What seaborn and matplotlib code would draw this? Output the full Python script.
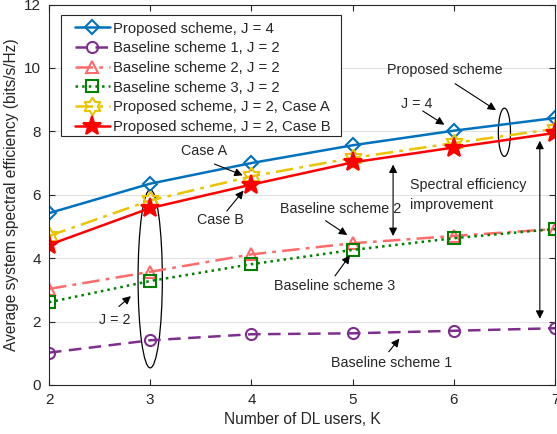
import matplotlib
matplotlib.use("Agg")
import matplotlib.pyplot as plt
from matplotlib.patches import Ellipse, Rectangle
import numpy as np
import seaborn as sns
import pandas as pd

K = [2, 3, 4, 5, 6, 7]
prop_j4 = [5.42, 6.35, 7.00, 7.56, 8.02, 8.42]
base1_j2 = [1.02, 1.41, 1.60, 1.63, 1.71, 1.79]
base2_j2 = [3.03, 3.57, 4.12, 4.47, 4.70, 4.92]
base3_j2 = [2.61, 3.28, 3.81, 4.26, 4.63, 4.92]
prop_j2_a = [4.70, 5.82, 6.58, 7.16, 7.63, 8.08]
prop_j2_b = [4.42, 5.58, 6.32, 7.02, 7.49, 7.95]

labels = ["Proposed scheme, J = 4", "Baseline scheme 1, J = 2",
          "Baseline scheme 2, J = 2", "Baseline scheme 3, J = 2",
          "Proposed scheme, J = 2, Case A", "Proposed scheme, J = 2, Case B"]
series = [prop_j4, base1_j2, base2_j2, base3_j2, prop_j2_a, prop_j2_b]

# six-pointed star marker (hexagram)
ang = np.pi / 2 + np.arange(12) * np.pi / 6
rad = np.where(np.arange(12) % 2 == 0, 1.0, 1 / np.sqrt(3))
hexagram = [(r * np.cos(a), r * np.sin(a)) for r, a in zip(rad, ang)]
hexagram.append(hexagram[0])

colors = ["#0072BD", "#7E2F8E", "#FF6B6B", "#008000", "#EBC400", "#FF0000"]
styles = ["-", (0, (5, 3)), (0, (7, 2.5, 1.5, 2.5)), ":", (0, (7, 2.5, 1.5, 2.5)), "-"]
markers = ["D", "o", "^", "s", hexagram, "*"]
msizes = [7, 8, 9, 8, 13, 14]
faces = ["none", "none", "none", "none", "none", "#FF0000"]

sns.set_style("ticks")
plt.rcParams['font.family'] = ['Liberation Sans', 'DejaVu Sans']

fig = plt.figure(figsize=(5.57, 4.34), dpi=100)
ax = fig.add_axes([49/557, 49/434, 506/557, 380.5/434])

for lab, vals, c, ls, m, ms, fc in zip(labels, series, colors, styles, markers, msizes, faces):
    df = pd.DataFrame({"K": K, "SE": vals})
    sns.lineplot(data=df, x="K", y="SE", ax=ax, color=c, linestyle=ls, marker=m,
                 markersize=ms, markerfacecolor=fc, markeredgecolor=c,
                 markeredgewidth=1.5, linewidth=1.8, label=lab)

ax.set_xlim(2, 7)
ax.set_ylim(0, 12)
ax.set_xticks(K)
ax.set_yticks([0, 2, 4, 6, 8, 10, 12])
ax.yaxis.grid(True, color="#e3e3e3", linewidth=0.8)
ax.set_axisbelow(True)
ax.tick_params(direction="in", top=True, right=True, labelsize=11, length=4,
               width=0.8, colors="#262626", pad=6)
for s in ax.spines.values():
    s.set_linewidth(0.8)
    s.set_color("#262626")
ax.set_xlabel("Number of DL users, K", fontsize=11.2, color="#262626", labelpad=3)
ax.set_ylabel("Average system spectral efficiency (bits/s/Hz)", fontsize=11.2,
              color="#262626", labelpad=3)

# legend frame (MATLAB-style padding)
ax.add_patch(Rectangle((61/557, (434-136)/434), 280/557, 121/434,
                       transform=fig.transFigure, facecolor="white",
                       edgecolor="#262626", lw=0.8, zorder=4, clip_on=False))
leg = ax.legend(loc="upper left", bbox_to_anchor=(75/557, (434-21.5)/434),
                bbox_transform=fig.transFigure, fontsize=10.7, frameon=False,
                handlelength=2.35, handletextpad=0.22, labelspacing=0.385,
                borderpad=0, borderaxespad=0)
leg.set_zorder(6)

fs = 10.3
arrow = dict(arrowstyle="-|>", color="black", lw=0.8, mutation_scale=12)
darrow = dict(arrowstyle="<|-|>", color="black", lw=0.8, mutation_scale=12)

ax.text(5.91, 9.95, "Proposed scheme", fontsize=fs, ha="center", va="center")
ax.annotate("", xy=(6.44, 8.62), xytext=(5.99, 9.55), arrowprops=arrow)
ax.add_patch(Ellipse((6.50, 7.97), 0.12, 1.52, fill=False, edgecolor="black", lw=0.9))

ax.text(5.63, 8.87, "J = 4", fontsize=fs, ha="center", va="center")
ax.annotate("", xy=(5.93, 8.16), xytext=(5.67, 8.69), arrowprops=arrow)

ax.text(3.53, 7.37, "Case A", fontsize=fs, ha="center", va="center")
ax.annotate("", xy=(3.94, 6.58), xytext=(3.61, 7.0), arrowprops=arrow)

ax.text(3.69, 5.21, "Case B", fontsize=fs, ha="center", va="center")
ax.annotate("", xy=(3.94, 6.2), xytext=(3.74, 5.42), arrowprops=arrow)

ax.text(4.88, 5.56, "Baseline scheme 2", fontsize=fs, ha="center", va="center")
ax.annotate("", xy=(4.97, 4.68), xytext=(4.71, 5.23), arrowprops=arrow)

ax.text(4.82, 3.13, "Baseline scheme 3", fontsize=fs, ha="center", va="center")
ax.annotate("", xy=(4.99, 4.16), xytext=(4.81, 3.37), arrowprops=arrow)

ax.text(5.39, 0.69, "Baseline scheme 1", fontsize=fs, ha="center", va="center")
ax.annotate("", xy=(5.48, 1.53), xytext=(5.34, 0.98), arrowprops=arrow)

ax.text(5.57, 6.0, "Spectral efficiency\nimprovement", fontsize=fs, ha="left",
        va="center", linespacing=1.5)
ax.annotate("", xy=(5.40, 7.04), xytext=(5.40, 4.61), arrowprops=darrow)
ax.annotate("", xy=(6.85, 7.79), xytext=(6.85, 2.0), arrowprops=darrow)

ax.text(2.65, 2.05, "J = 2", fontsize=fs, ha="center", va="center")
ax.annotate("", xy=(2.83, 2.86), xytext=(2.67, 2.42), arrowprops=arrow)
ax.add_patch(Ellipse((3.0, 3.35), 0.24, 5.62, fill=False, edgecolor="black", lw=0.9))

fig.savefig("out.png", dpi=100)
